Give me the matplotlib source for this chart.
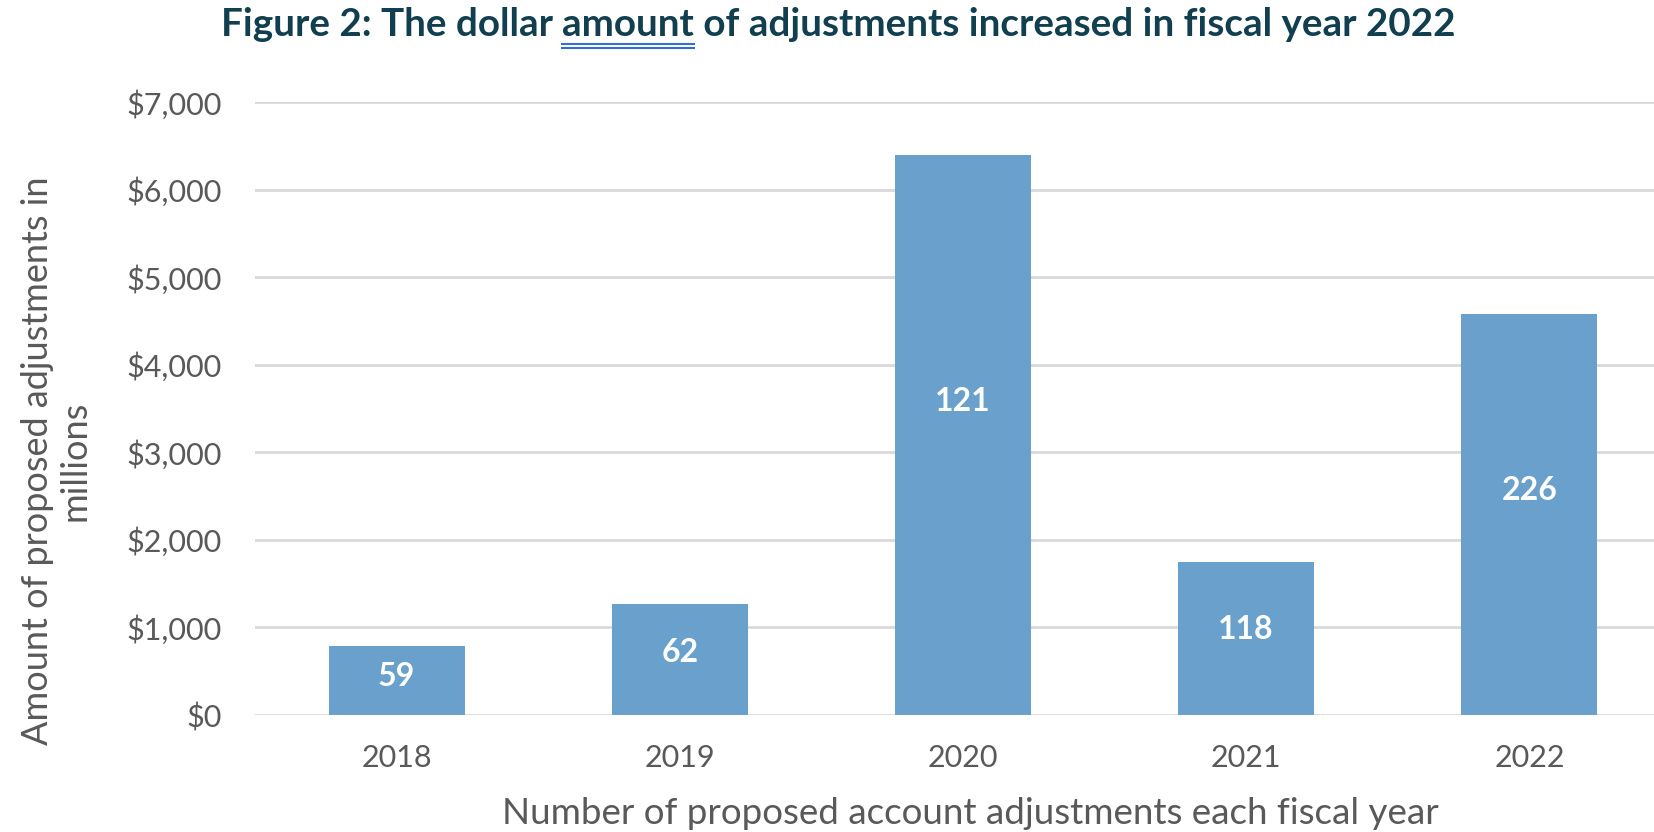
import matplotlib
matplotlib.use("Agg")
import matplotlib.pyplot as plt
from matplotlib.ticker import FuncFormatter

years = ["2018", "2019", "2020", "2021", "2022"]
amounts = [790, 1265, 6395, 1745, 4580]  # millions of dollars
counts = [59, 62, 121, 118, 226]
y_ticks = [0, 1000, 2000, 3000, 4000, 5000, 6000, 7000]

title_parts = ["Figure 2: The dollar ", "amount", " of adjustments increased in fiscal year 2022"]
x_label = "Number of proposed account adjustments each fiscal year"
y_label = "Amount of proposed adjustments in\nmillions"

bar_color = "#6aa1cc"
grid_color = "#d9d9d9"
text_gray = "#595959"
title_color = "#123f4f"

plt.rcParams['font.family'] = ['Lato', 'DejaVu Sans']

fig = plt.figure(figsize=(16.54, 8.32), dpi=100)
ax = fig.add_axes([255 / 1654, 0.1406, (1671 - 255) / 1654, 0.8774 - 0.1406])

x = list(range(len(years)))
ax.bar(x, amounts, width=0.48, color=bar_color, zorder=3)
ax.set_xlim(-0.5, 4.5)
ax.set_ylim(0, 7000)
ax.set_yticks(y_ticks)
ax.yaxis.set_major_formatter(FuncFormatter(lambda v, p: f"${v:,.0f}"))
ax.set_xticks(x)
ax.set_xticklabels(years)
ax.grid(axis="y", color=grid_color, linewidth=2, zorder=0)
for s in ax.spines.values():
    s.set_visible(False)
ax.tick_params(length=0, labelsize=22, labelcolor=text_gray)
ax.tick_params(axis="y", pad=24)
ax.tick_params(axis="x", pad=21)

for xi, amt, cnt in zip(x, amounts, counts):
    ax.text(xi, amt * 0.56, str(cnt), ha="center", va="center",
            color="white", fontsize=23, fontweight="bold", zorder=4)

fig.text(970 / 1654, 1 - 814 / 832, x_label, ha="center", va="center",
         fontsize=26.5, color=text_gray)
fig.text(56 / 1654, 1 - 461 / 832, y_label, ha="center", va="center",
         rotation=90, fontsize=26, color=text_gray, multialignment="center",
         linespacing=1.15)

# title drawn in three pieces so the middle word can be underlined
fig.canvas.draw()
renderer = fig.canvas.get_renderer()
pieces = []
for part in title_parts:
    t = fig.text(0, 1 - 24 / 832, part, ha="left", va="center",
                 fontsize=27.8, color=title_color, fontweight="bold")
    pieces.append(t)
widths = [p.get_window_extent(renderer).width for p in pieces]
total = sum(widths)
start = 838 - total / 2
for p, w in zip(pieces, widths):
    p.set_x(start / 1654)
    start += w
bb = pieces[1].get_window_extent(renderer)
for off in (2, 6):
    yy = (bb.y0 - off) / 832
    fig.add_artist(plt.Line2D([bb.x0 / 1654, bb.x1 / 1654], [yy, yy],
                              color="#2f6fd6", linewidth=1.5))

fig.savefig("out.png", dpi=100)
